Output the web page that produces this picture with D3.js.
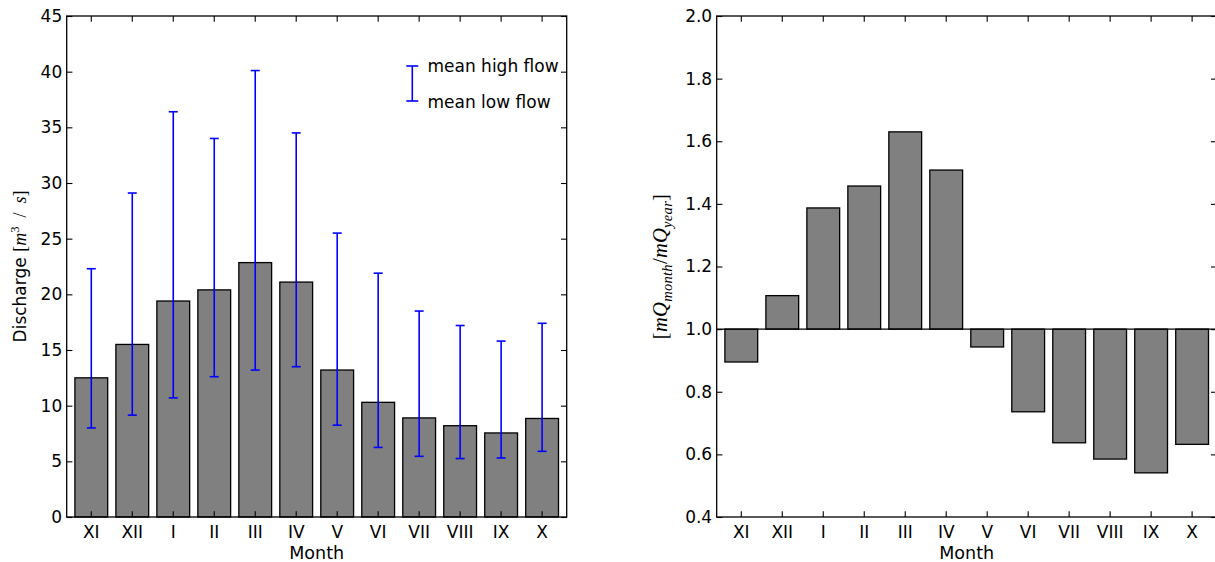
<!DOCTYPE html>
<html>
<head>
<meta charset="utf-8">
<script src="https://cdn.jsdelivr.net/npm/d3@7"></script>
<style>
  body { margin: 0; background: #fff; }
  svg { display: block; }
</style>
</head>
<body>
<div id="chart"></div>
<script>
// data
const months = ['XI', 'XII', 'I', 'II', 'III', 'IV', 'V', 'VI', 'VII', 'VIII', 'IX', 'X'];
const meanFlow = [12.5, 15.5, 19.4, 20.4, 22.85, 21.1, 13.2, 10.3, 8.9, 8.2, 7.55, 8.85];
const highFlow = [22.3, 29.1, 36.4, 34.0, 40.1, 34.5, 25.5, 21.9, 18.5, 17.2, 15.8, 17.4];
const lowFlow = [8.0, 9.15, 10.7, 12.6, 13.2, 13.5, 8.25, 6.25, 5.45, 5.25, 5.3, 5.9];
const ratio = [0.895, 1.107, 1.387, 1.457, 1.630, 1.508, 0.943, 0.736, 0.637, 0.585, 0.541, 0.632];
const dischargeTicks = [0, 5, 10, 15, 20, 25, 30, 35, 40, 45];
const ratioTicks = [0.4, 0.6, 0.8, 1.0, 1.2, 1.4, 1.6, 1.8, 2.0];
const legendLabels = ['mean high flow', 'mean low flow'];

const width = 1215, height = 562;
const plotW = 500, plotTop = 16, plotH = 501;
const tickLen = 5.7;
const font = 'DejaVu Sans';
const mathFont = 'Liberation Serif';

const svg = d3.select('#chart')
  .append('svg')
  .attr('width', width)
  .attr('height', height);

function makePanel(left, yScale, yTicks, yFormat){
  const g = svg.append('g').attr('transform', `translate(${left}, ${plotTop})`);

  const x = d3.scaleBand()
    .domain(months)
    .range([0, plotW])
    .padding(0.2);

  const bars = g.append('g');
  const marks = g.append('g');

  // axes with inward ticks on all four sides
  g.append('g')
    .attr('transform', `translate(0, ${plotH})`)
    .call(d3.axisBottom(x).tickSize(-tickLen).tickPadding(8.5).tickSizeOuter(0));
  g.append('g')
    .call(d3.axisTop(x).tickSize(-tickLen).tickFormat('').tickSizeOuter(0));
  g.append('g')
    .call(d3.axisLeft(yScale).tickValues(yTicks).tickFormat(yFormat)
      .tickSize(-tickLen).tickPadding(4.5).tickSizeOuter(0));
  g.append('g')
    .attr('transform', `translate(${plotW}, 0)`)
    .call(d3.axisRight(yScale).tickValues(yTicks).tickFormat('')
      .tickSize(-tickLen).tickSizeOuter(0));

  g.selectAll('.domain').remove();
  g.selectAll('.tick line').attr('stroke', '#000').attr('stroke-width', 1.1);
  g.selectAll('.tick text')
    .attr('font-family', font)
    .attr('font-size', 17)
    .attr('fill', '#000');

  g.append('text')
    .attr('x', plotW / 2)
    .attr('y', plotH + 41.5)
    .attr('text-anchor', 'middle')
    .attr('font-family', font)
    .attr('font-size', 17.5)
    .text('Month');

  return {g, x, bars, marks};
}

function spines(p){
  p.g.append('rect')
    .attr('x', 0).attr('y', 0)
    .attr('width', plotW).attr('height', plotH)
    .attr('fill', 'none')
    .attr('stroke', '#000')
    .attr('stroke-width', 1.3);
}

// ---- left panel: discharge ----
const yQ = d3.scaleLinear().domain([0, 45]).range([plotH, 0]);
const left = makePanel(66.7, yQ, dischargeTicks, d3.format('d'));

left.bars.selectAll('rect')
  .data(meanFlow)
  .enter()
  .append('rect')
  .attr('x', (d, i) => left.x(months[i]))
  .attr('y', d => yQ(d))
  .attr('width', left.x.bandwidth())
  .attr('height', d => yQ(0) - yQ(d))
  .attr('fill', '#808080')
  .attr('stroke', '#000')
  .attr('stroke-width', 1.3);

const capW = 4.5;
const err = left.marks.selectAll('g.err')
  .data(months.map((m, i) => ({m, hi: highFlow[i], lo: lowFlow[i]})))
  .enter()
  .append('g')
  .attr('class', 'err')
  .attr('stroke', '#0000ff')
  .attr('stroke-width', 1.6);
err.append('line')
  .attr('x1', d => left.x(d.m) + left.x.bandwidth() / 2)
  .attr('x2', d => left.x(d.m) + left.x.bandwidth() / 2)
  .attr('y1', d => yQ(d.hi))
  .attr('y2', d => yQ(d.lo));
err.selectAll('line.cap')
  .data(d => [d.hi, d.lo].map(v => ({m: d.m, v})))
  .enter()
  .append('line')
  .attr('class', 'cap')
  .attr('x1', d => left.x(d.m) + left.x.bandwidth() / 2 - capW)
  .attr('x2', d => left.x(d.m) + left.x.bandwidth() / 2 + capW)
  .attr('y1', d => yQ(d.v))
  .attr('y2', d => yQ(d.v));

// legend: one error bar glyph with two labels
const lg = svg.append('g').attr('transform', 'translate(412.3, 66)');
lg.append('line').attr('x1', 0).attr('x2', 0).attr('y1', 0).attr('y2', 35);
lg.append('line').attr('x1', -6).attr('x2', 6).attr('y1', 0).attr('y2', 0);
lg.append('line').attr('x1', -6).attr('x2', 6).attr('y1', 35).attr('y2', 35);
lg.selectAll('line').attr('stroke', '#0000ff').attr('stroke-width', 1.6);
lg.selectAll('text')
  .data(legendLabels)
  .enter()
  .append('text')
  .attr('x', 15.2)
  .attr('y', (d, i) => 6 + i * 36)
  .attr('font-family', font)
  .attr('font-size', 17)
  .text(d => d);

spines(left);

// y label: Discharge [m^3 / s]
const yl = svg.append('text')
  .attr('transform', `translate(25.5, ${plotTop + plotH / 2}) rotate(-90)`)
  .attr('text-anchor', 'middle')
  .attr('font-size', 17);
yl.append('tspan').attr('font-family', font).text('Discharge ');
yl.append('tspan').attr('font-family', mathFont).attr('font-size', 18).text('[');
yl.append('tspan').attr('font-family', mathFont).attr('font-style', 'italic').attr('font-size', 18).text('m');
yl.append('tspan').attr('font-family', mathFont).attr('font-size', 12.5).attr('dy', -7).text('3');
yl.append('tspan').attr('font-family', mathFont).attr('font-size', 18).attr('dy', 7).text('\u2002/\u2002');
yl.append('tspan').attr('font-family', mathFont).attr('font-style', 'italic').attr('font-size', 18).text('s');
yl.append('tspan').attr('font-family', mathFont).attr('font-size', 18).text(']');

// ---- right panel: ratio to the yearly mean ----
const yR = d3.scaleLinear().domain([0.4, 2.0]).range([plotH, 0]);
const right = makePanel(716.7, yR, ratioTicks, d3.format('.1f'));

right.bars.selectAll('rect')
  .data(ratio)
  .enter()
  .append('rect')
  .attr('x', (d, i) => right.x(months[i]))
  .attr('y', d => Math.min(yR(d), yR(1)))
  .attr('width', right.x.bandwidth())
  .attr('height', d => Math.abs(yR(d) - yR(1)))
  .attr('fill', '#808080')
  .attr('stroke', '#000')
  .attr('stroke-width', 1.3);

right.marks.append('line')
  .attr('x1', 0).attr('x2', plotW)
  .attr('y1', yR(1)).attr('y2', yR(1))
  .attr('stroke', '#000')
  .attr('stroke-width', 1.4);

spines(right);

// y label: [mQ_month / mQ_year]
const yr = svg.append('text')
  .attr('transform', `translate(667, ${plotTop + plotH / 2}) rotate(-90)`)
  .attr('text-anchor', 'middle')
  .attr('font-family', mathFont)
  .attr('font-size', 20.5)
  .attr('letter-spacing', 0.3);
yr.append('tspan').text('[');
yr.append('tspan').attr('font-style', 'italic').text('mQ');
yr.append('tspan').attr('font-style', 'italic').attr('font-size', 14.5).attr('dy', 4.5).text('month');
yr.append('tspan').attr('dy', -4.5).text('/');
yr.append('tspan').attr('font-style', 'italic').text('mQ');
yr.append('tspan').attr('font-style', 'italic').attr('font-size', 14.5).attr('dy', 4.5).text('year');
yr.append('tspan').attr('dy', -4.5).text(']');
</script>
</body>
</html>
